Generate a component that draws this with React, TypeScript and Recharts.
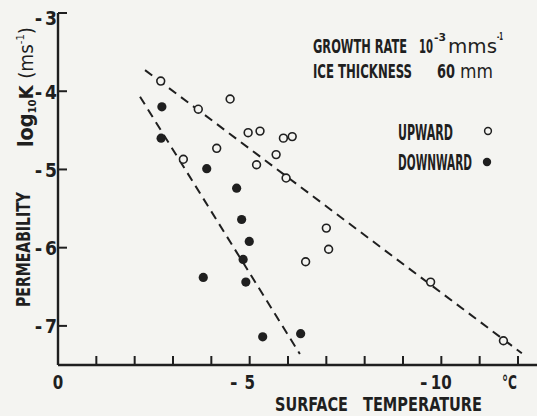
import { ScatterChart, Scatter, XAxis, YAxis } from 'recharts';

const INK = '#1f1f1f';
const PAPER = '#f4f4f1';
const FONT = "'DejaVu Sans Condensed', 'DejaVu Sans', sans-serif";

// surface temperature (°C) and log10 K (m/s)
const upwardTemp = [-2.68, -3.66, -4.49, -4.96, -5.27, -4.14, -5.88, -6.11, -3.27, -5.69, -5.18, -5.95, -7.0, -7.06, -6.46, -9.72, -11.62];
const upwardLogK = [-3.87, -4.23, -4.1, -4.53, -4.51, -4.73, -4.6, -4.58, -4.87, -4.81, -4.94, -5.11, -5.75, -6.02, -6.18, -6.44, -7.19];
const downwardTemp = [-2.71, -2.69, -3.88, -4.66, -4.79, -4.99, -4.83, -3.79, -4.9, -5.34, -6.33];
const downwardLogK = [-4.2, -4.6, -4.99, -5.24, -5.64, -5.92, -6.15, -6.38, -6.44, -7.14, -7.1];

// dashed trend lines (end points)
const upwardFitTemp = [-2.27, -12.1];
const upwardFitLogK = [-3.73, -7.35];
const downwardFitTemp = [-2.14, -6.31];
const downwardFitLogK = [-4.07, -7.36];

const xTicks = [0, -1, -2, -3, -4, -5, -6, -7, -8, -9, -10, -11, -12];
const xLabelled = [0, -5, -10];
const yTicks = [-3, -4, -5, -6, -7];
const rightTicks = [-4, -5, -6, -7];

const toPoints = (xs: number[], ys: number[]) => xs.map((x, i) => ({ x, y: ys[i] }));

const upward = toPoints(upwardTemp, upwardLogK);
const downward = toPoints(downwardTemp, downwardLogK);
const upwardFit = toPoints(upwardFitTemp, upwardFitLogK);
const downwardFit = toPoints(downwardFitTemp, downwardFitLogK);

const bold = { fontFamily: FONT, fontWeight: 'bold' as const, fill: INK };

function BottomTick({ x, y, payload }: any) {
  const v = payload.value;
  const digits = String(Math.abs(v));
  return (
    <g>
      <line x1={x} y1={y} x2={x} y2={y - 9} stroke={INK} strokeWidth={2} />
      {xLabelled.includes(v) && (
        <>
          {v < 0 && (
            <text x={x - (digits.length > 1 ? 17.5 : 16)} y={389} fontSize={20} textAnchor="middle" {...bold}>
              -
            </text>
          )}
          <text x={x} y={389} fontSize={20} textAnchor="middle" textLength={digits.length * 10.5} lengthAdjust="spacingAndGlyphs" {...bold}>
            {digits}
          </text>
        </>
      )}
      {v === -12 && (
        <text x={x - 1} y={389} fontSize={20} textAnchor="end" textLength={15} lengthAdjust="spacingAndGlyphs" {...bold}>
          °C
        </text>
      )}
    </g>
  );
}

function TopTick({ x, y }: any) {
  return <line x1={x} y1={y} x2={x} y2={y + 9} stroke={INK} strokeWidth={2} />;
}

function LeftTick({ x, y, payload }: any) {
  const v = payload.value;
  const base = v === -3 ? y + 12 : y + 7.5;
  return (
    <g>
      <line x1={x} y1={y} x2={x + 9} y2={y} stroke={INK} strokeWidth={2} />
      <text x={x - 19.5} y={base} fontSize={20} textAnchor="middle" {...bold}>
        -
      </text>
      <text x={x - 1} y={base} fontSize={20} textAnchor="end" textLength={12} lengthAdjust="spacingAndGlyphs" {...bold}>
        {String(Math.abs(v))}
      </text>
    </g>
  );
}

function RightTick({ x, y }: any) {
  return <line x1={x} y1={y} x2={x - 14} y2={y} stroke={INK} strokeWidth={2} />;
}

const OpenDot = ({ cx, cy }: any) => <circle cx={cx} cy={cy} r={3.9} fill={PAPER} stroke={INK} strokeWidth={1.6} />;
const FilledDot = ({ cx, cy }: any) => <circle cx={cx} cy={cy} r={4.6} fill={INK} />;
const NoDot = () => <g />;

const dashed = { stroke: INK, strokeWidth: 2, strokeDasharray: '9 6' };
const axisLine = { stroke: INK, strokeWidth: 2.4 };

export default function App() {
  return (
    <div style={{ position: 'absolute', left: 0, top: 0, width: 537, height: 416, overflow: 'hidden', background: PAPER }}>
      <ScatterChart width={545} height={416} margin={{ top: 13, right: 4, bottom: 0, left: 0 }}>
        <XAxis
          xAxisId={0}
          type="number"
          dataKey="x"
          domain={[-12.6, 0]}
          reversed
          allowDataOverflow
          ticks={xTicks}
          interval={0}
          height={51}
          tickSize={0}
          tickMargin={0}
          tickLine={false}
          axisLine={axisLine}
          tick={<BottomTick />}
        />
        <XAxis
          xAxisId="top"
          orientation="top"
          type="number"
          domain={[-12.6, 0]}
          reversed
          allowDataOverflow
          ticks={xTicks.slice(1)}
          interval={0}
          height={0}
          tickSize={0}
          tickMargin={0}
          tickLine={false}
          axisLine={axisLine}
          tick={<TopTick />}
        />
        <YAxis
          yAxisId={0}
          type="number"
          dataKey="y"
          domain={[-7.5, -3]}
          allowDataOverflow
          ticks={yTicks}
          interval={0}
          width={58}
          tickSize={0}
          tickMargin={0}
          tickLine={false}
          axisLine={axisLine}
          tick={<LeftTick />}
        />
        <YAxis
          yAxisId="right"
          orientation="right"
          type="number"
          domain={[-7.5, -3]}
          allowDataOverflow
          ticks={rightTicks}
          interval={0}
          width={0}
          tickSize={0}
          tickMargin={0}
          tickLine={false}
          axisLine={axisLine}
          tick={<RightTick />}
        />
        <Scatter data={upwardFit} line={dashed} shape={<NoDot />} isAnimationActive={false} />
        <Scatter data={downwardFit} line={dashed} shape={<NoDot />} isAnimationActive={false} />
        <Scatter data={upward} shape={<OpenDot />} isAnimationActive={false} />
        <Scatter data={downward} shape={<FilledDot />} isAnimationActive={false} />
      </ScatterChart>

      <svg width={537} height={416} style={{ position: 'absolute', left: 0, top: 0, pointerEvents: 'none' }}>
        {/* notes */}
        <g fontFamily={FONT} fill={INK}>
          <text x={313} y={53} fontSize={20} fontWeight="bold" textLength={94} lengthAdjust="spacingAndGlyphs">GROWTH RATE</text>
          <text x={419} y={53} fontSize={20} fontWeight="bold" textLength={14} lengthAdjust="spacingAndGlyphs">10</text>
          <text x={434} y={41} fontSize={11} fontWeight="bold" textLength={12} lengthAdjust="spacingAndGlyphs">-3</text>
          <text x={448} y={53} fontSize={20} textLength={49} lengthAdjust="spacingAndGlyphs">mms</text>
          <text x={497} y={40} fontSize={10} fontWeight="bold" textLength={6} lengthAdjust="spacingAndGlyphs">-1</text>

          <text x={313} y={78} fontSize={20} fontWeight="bold" textLength={99} lengthAdjust="spacingAndGlyphs">ICE THICKNESS</text>
          <text x={437} y={78} fontSize={20} fontWeight="bold" textLength={18} lengthAdjust="spacingAndGlyphs">60</text>
          <text x={460} y={78} fontSize={20} textLength={33} lengthAdjust="spacingAndGlyphs">mm</text>

          <text x={398} y={140} fontSize={22} fontWeight="bold" textLength={55} lengthAdjust="spacingAndGlyphs">UPWARD</text>
          <text x={398} y={170} fontSize={22} fontWeight="bold" textLength={74} lengthAdjust="spacingAndGlyphs">DOWNWARD</text>
        </g>
        <circle cx={488} cy={131} r={3.4} fill={PAPER} stroke={INK} strokeWidth={1.5} />
        <circle cx={487} cy={162} r={4.2} fill={INK} />

        {/* axis titles */}
        <text x={275} y={411} fontSize={20} textLength={73} lengthAdjust="spacingAndGlyphs" {...bold}>SURFACE</text>
        <text x={363} y={411} fontSize={20} textLength={119} lengthAdjust="spacingAndGlyphs" {...bold}>TEMPERATURE</text>
        <text transform="translate(30,249.5) rotate(-90)" textAnchor="middle" fontSize={20} textLength={115} lengthAdjust="spacingAndGlyphs" {...bold}>
          PERMEABILITY
        </text>
        <text transform="translate(33,147) rotate(-90)" fontFamily={FONT} fill={INK} textLength={120} lengthAdjust="spacingAndGlyphs">
          <tspan fontSize={21} fontWeight="bold">log</tspan>
          <tspan fontSize={11} fontWeight="bold" dy={3}>10</tspan>
          <tspan fontSize={20} fontWeight="bold" dy={-3}>K </tspan>
          <tspan fontSize={20}> (ms</tspan>
          <tspan fontSize={11} dy={-9}>-1</tspan>
          <tspan fontSize={20} dy={9}>)</tspan>
        </text>
      </svg>
    </div>
  );
}
